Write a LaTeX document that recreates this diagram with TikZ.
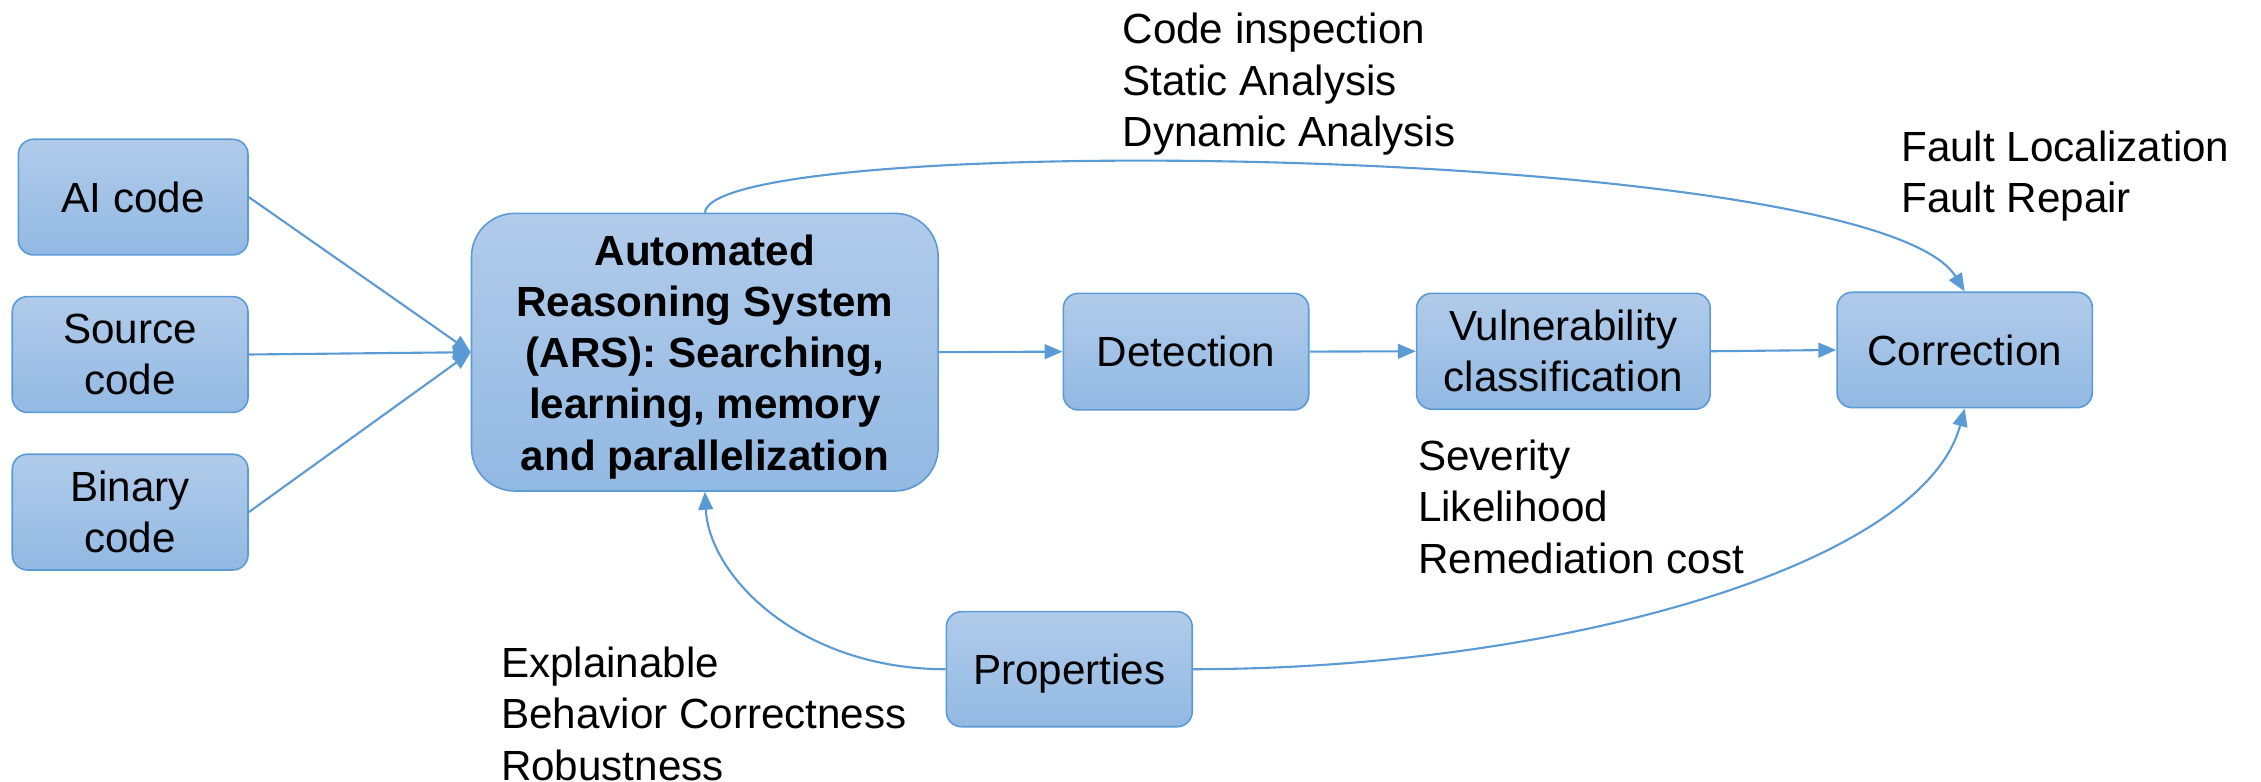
\documentclass[tikz,border=0pt]{standalone}
\usepackage{fontspec}
\setmainfont{Liberation Sans}
\usetikzlibrary{arrows.meta}
\newdimen\pxu \pxu=0.01442cm
\definecolor{edge}{RGB}{91,155,213}
\definecolor{filltop}{RGB}{177,203,234}
\definecolor{fillbot}{RGB}{146,185,227}
\tikzset{
  box/.style={draw=edge, line width=0.45pt, top color=filltop, bottom color=fillbot,
    rounded corners=10.5\pxu, inner sep=0pt, align=center,
    font=\fontsize{12}{14.59}\selectfont},
  oneline/.style={text height=8.7pt, text depth=0pt},
  conn/.style={draw=edge, line width=0.6pt, -{Triangle[length=5.1pt,width=4.2pt]}},
  note/.style={inner sep=0pt, align=left, anchor=base west,
    font=\fontsize{12}{14.59}\selectfont},
}
\begin{document}
\begin{tikzpicture}[x=0.01442cm, y=-0.01442cm]
\useasboundingbox (0,0) rectangle (1568,542);

% boxes
\node[box, oneline, minimum width=159.3\pxu, minimum height=80.2\pxu] (ai) at (92.35,136.7) {AI code};
\node[box, minimum width=163.5\pxu, minimum height=80.3\pxu] (src) at (90.25,245.85) {Source\\code};
\node[box, minimum width=163.5\pxu, minimum height=80.3\pxu] (bin) at (90.25,355.15) {Binary\\code};
\node[box, rounded corners=30\pxu, minimum width=323.6\pxu, minimum height=192.5\pxu,
      font=\fontsize{12}{14.59}\selectfont\bfseries] (ars) at (488.8,244.25)
      {\rule{0pt}{11.3pt}Automated\\Reasoning System\\(ARS): Searching,\\learning, memory\\and parallelization};
\node[box, oneline, minimum width=170.2\pxu, minimum height=80.9\pxu] (det) at (822.5,243.85) {Detection};
\node[box, minimum width=203.6\pxu, minimum height=80.4\pxu] (vul) at (1084.2,243.6) {Vulnerability\\classification};
\node[box, oneline, minimum width=177\pxu, minimum height=80\pxu] (cor) at (1362.5,242.7) {Correction};
\node[box, oneline, minimum width=170.5\pxu, minimum height=79.8\pxu] (pro) at (741.55,464.1) {Properties};

% notes (anchored at the baseline of their last line)
\node[note] (n1) at (778,101.5) {Code inspection\\Static Analysis\\Dynamic Analysis};
\node[note] (n2) at (1318,147.5) {Fault Localization\\Fault Repair};
\node[note] (n3) at (983,397.5) {Severity\\Likelihood\\Remediation cost};
\node[note] (n4) at (347,541) {Explainable\\Behavior Correctness\\Robustness};

% connectors
\draw[conn] (ai.east) -- (ars.west);
\draw[conn] (src.east) -- (ars.west);
\draw[conn] (bin.east) -- (ars.west);
\draw[conn] (ars.east) -- (det.west);
\draw[conn] (det.east) -- (vul.west);
\draw[conn] (vul.east) -- (cor.west);
\draw[conn] (ars.north) .. controls +(6.2,-58) and +(-62.5,-102.7) .. (cor.north);
\draw[conn] (pro.east) .. controls +(250,0) and +(-29.5,110.3) .. (cor.south);
\draw[conn] (pro.west) .. controls +(-100,0) and +(3.2,59.5) .. (ars.south);
\end{tikzpicture}
\end{document}
